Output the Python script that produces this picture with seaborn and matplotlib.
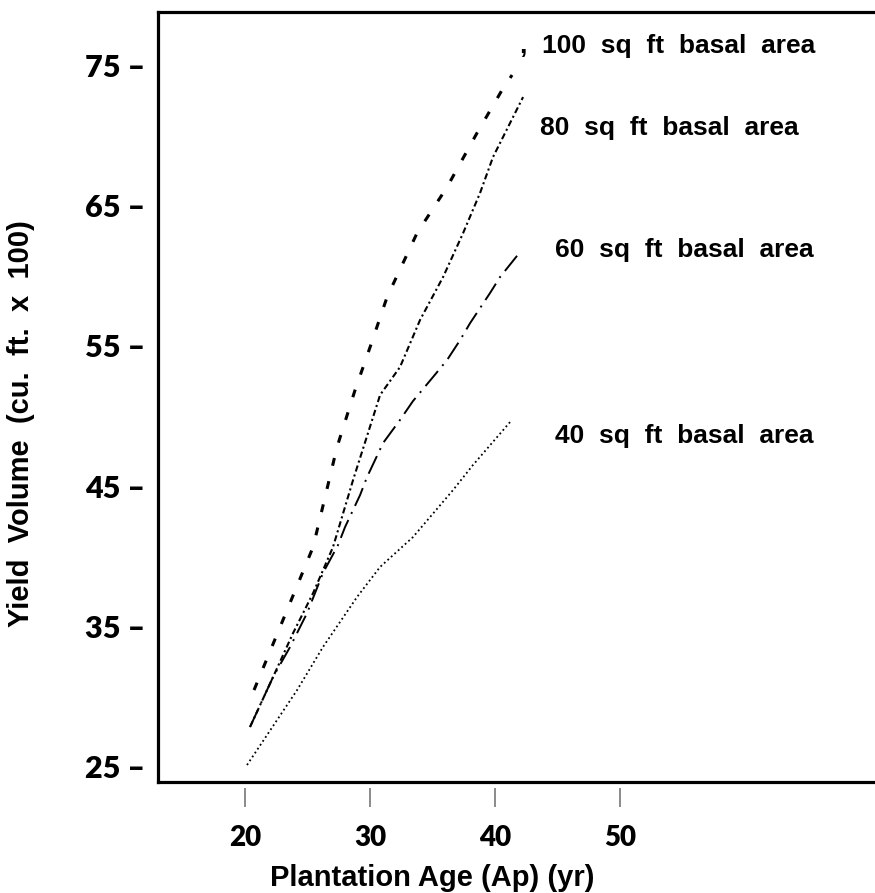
import numpy as np
import pandas as pd
import seaborn as sns
import matplotlib
matplotlib.use('Agg')
from matplotlib import pyplot as plt
import matplotlib.transforms as mtransforms

# curves (age in yr, volume in cu ft x 100)
age_100 = [20.74, 22.82, 25.46, 27.37, 28.81, 30.01, 31.37, 33.76, 36.16, 38.55, 40.55, 41.35]
vol_100 = [30.48, 34.97, 40.67, 47.79, 51.85, 54.91, 58.48, 63.03, 66.31, 70.16, 73.22, 74.29]

age_80 = [20.42, 22.26, 23.86, 25.46, 27.05, 28.65, 30.81, 32.40, 34.00, 35.84, 37.44, 38.79, 39.83, 42.23]
vol_80 = [27.85, 31.41, 34.54, 37.39, 40.67, 45.44, 51.50, 53.49, 56.84, 59.90, 63.03, 65.88, 68.45, 72.72]

age_60 = [20.42, 22.26, 23.62, 24.98, 26.25, 27.45, 28.01, 29.21, 29.77, 31.05, 32.40, 33.44,
          35.04, 36.16, 37.20, 38.00, 39.59, 40.39, 41.99]
vol_60 = [27.85, 31.41, 33.55, 35.97, 38.82, 40.81, 42.09, 44.37, 45.66, 48.08, 49.72, 51.07,
          52.78, 53.99, 55.41, 56.62, 58.76, 59.90, 61.68]

age_40 = [20.18, 24.18, 26.25, 28.97, 30.81, 33.44, 36.64, 38.23, 41.19]
vol_40 = [25.14, 30.48, 33.55, 37.11, 39.25, 41.38, 44.73, 46.51, 49.57]

curve_labels = [',  100  sq  ft  basal  area', '80  sq  ft  basal  area',
                '60  sq  ft  basal  area', '40  sq  ft  basal  area']
label_x = [42.0, 43.59, 44.78, 44.78]
label_y = [75.85, 70.01, 61.32, 48.08]

x_ticks = [20, 30, 40, 50]
y_ticks = [25, 35, 45, 55, 65, 75]

sns.set_style('white')
plt.rcParams['font.family'] = ['Liberation Sans', 'DejaVu Sans']
plt.rcParams['text.color'] = 'black'
plt.rcParams['axes.labelcolor'] = 'black'
plt.rcParams['xtick.color'] = 'black'
plt.rcParams['ytick.color'] = 'black'

fig = plt.figure(figsize=(8.75, 8.93), dpi=100)
ax = fig.add_axes([158/875, 1 - 782/893, 1 - 158/875, (782 - 12)/893])

styles = [
    (age_100, vol_100, (0, (2.6, 5.2)), 2.2),
    (age_80, vol_80, (0, (3.0, 1.5, 1.0, 1.5)), 1.5),
    (age_60, vol_60, (0, (10.0, 3.5, 1.0, 3.5)), 1.4),
    (age_40, vol_40, (0, (1.0, 1.6)), 1.3),
]
for xs, ys, ls, lw in styles:
    df = pd.DataFrame({'age': xs, 'vol': ys})
    sns.lineplot(data=df, x='age', y='vol', ax=ax, color='black', linewidth=lw,
                 linestyle=ls, estimator=None, sort=False)

for txt, tx, ty in zip(curve_labels, label_x, label_y):
    ax.text(tx, ty, txt, fontsize=19, fontweight='bold', ha='left', va='baseline')

ax.set_xlim(13.07, 70.34)
ax.set_ylim(23.93, 78.78)

ax.set_xticks(x_ticks)
ax.set_xticklabels([str(t) for t in x_ticks], fontsize=20, fontweight='heavy', family='Lato')
ax.set_yticks(y_ticks)
ax.set_yticklabels([f'{t} \u2013' for t in y_ticks], fontsize=22, fontweight='heavy', family='Lato')
ax.tick_params(axis='y', length=0, pad=9)
ax.tick_params(axis='x', length=0, pad=31)

# separate little tick strokes under the axis
trans = mtransforms.blended_transform_factory(ax.transData, ax.transAxes)
ax.vlines(x_ticks, -0.008, -0.033, transform=trans, colors='#777777', linewidth=1.2, clip_on=False)

for side in ['left', 'top', 'bottom']:
    ax.spines[side].set_visible(True)
    ax.spines[side].set_linewidth(2.3)
    ax.spines[side].set_color('black')
ax.spines['right'].set_visible(False)

ax.set_xlabel('Plantation Age (Ap) (yr)', fontsize=21, fontweight='bold')
ax.set_ylabel('Yield  Volume  (cu.  ft.  x  100)', fontsize=21, fontweight='bold')
ax.xaxis.set_label_coords(0.382, -0.106)
ax.yaxis.set_label_coords(-0.172, 0.466)

fig.savefig('out.png', dpi=100)
